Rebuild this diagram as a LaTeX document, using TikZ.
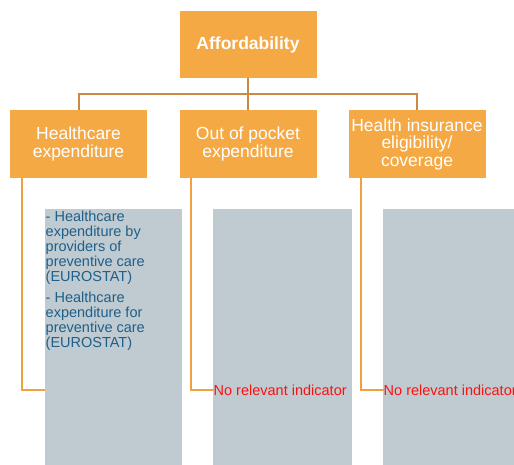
\documentclass[tikz,border=0pt]{standalone}
\usepackage{fontspec}
\setmainfont{Liberation Sans}
\usepackage{xcolor}
\definecolor{boxorange}{HTML}{F5A945}
\definecolor{treebrown}{HTML}{C98B3F}
\definecolor{lineorange}{HTML}{F0A040}
\definecolor{indgray}{HTML}{BFCBD0}
\definecolor{indblue}{HTML}{1F5F8B}
\definecolor{nored}{HTML}{FF1010}
\usetikzlibrary{positioning}

\begin{document}
\begin{tikzpicture}[x=1pt, y=-1pt,
  topic/.style={fill=boxorange, text=white, minimum width=137pt, minimum height=68pt, align=center, inner sep=2pt, font=\fontsize{17.5}{17.5}\selectfont},
  indbox/.style={fill=indgray, minimum width=137pt, minimum height=262pt, anchor=north west, inner sep=0pt},
  tree/.style={draw=treebrown, line width=2pt},
  side/.style={draw=lineorange, line width=2pt},
  noind/.style={anchor=west, inner sep=0pt, text=nored, font=\fontsize{14.5}{15}\selectfont}]
\clip (0,0) rectangle (514,464);
% top box
\node[topic, minimum height=67pt, font=\bfseries\fontsize{17.5}{17.5}\selectfont] (afford) at (248,44.5) {Affordability};
% second level
\node[topic] (hce) at (78.5,144) {Healthcare\\expenditure};
\node[topic] (oop) at (248,144) {Out of pocket\\expenditure};
\node[topic] (ins) at (417,144) {Health insurance\\eligibility/\\coverage};
% indicator panels
\node[indbox] (ind1) at (45,209) {};
\node[indbox, minimum width=139pt] (ind2) at (213,209) {};
\node[indbox] (ind3) at (383,209) {};
\node[anchor=north west, inner xsep=0.5pt, inner ysep=1.5pt, align=left, text=indblue, font=\fontsize{14.5}{15}\selectfont] (list1) at (ind1.north west) {- Healthcare\\expenditure by\\providers of\\preventive care\\(EUROSTAT)\\[6pt]- Healthcare\\expenditure for\\preventive care\\(EUROSTAT)};
\node[noind] (nr2) at (213.5,390) {No relevant indicator};
\node[noind] (nr3) at (383.5,390) {No relevant indicator};
\coordinate (in1) at (45,390);
% tree lines
\draw[tree] (afford.south) -- (oop.north);
\draw[tree] (hce.north) -- ++(0,-16) -| (ins.north);
% side lines
\draw[side] ([xshift=12pt]hce.south west) |- (in1);
\draw[side] ([xshift=12pt]oop.south west) |- (nr2.west);
\draw[side] ([xshift=13pt]ins.south west) |- (nr3.west);
\end{tikzpicture}
\end{document}
